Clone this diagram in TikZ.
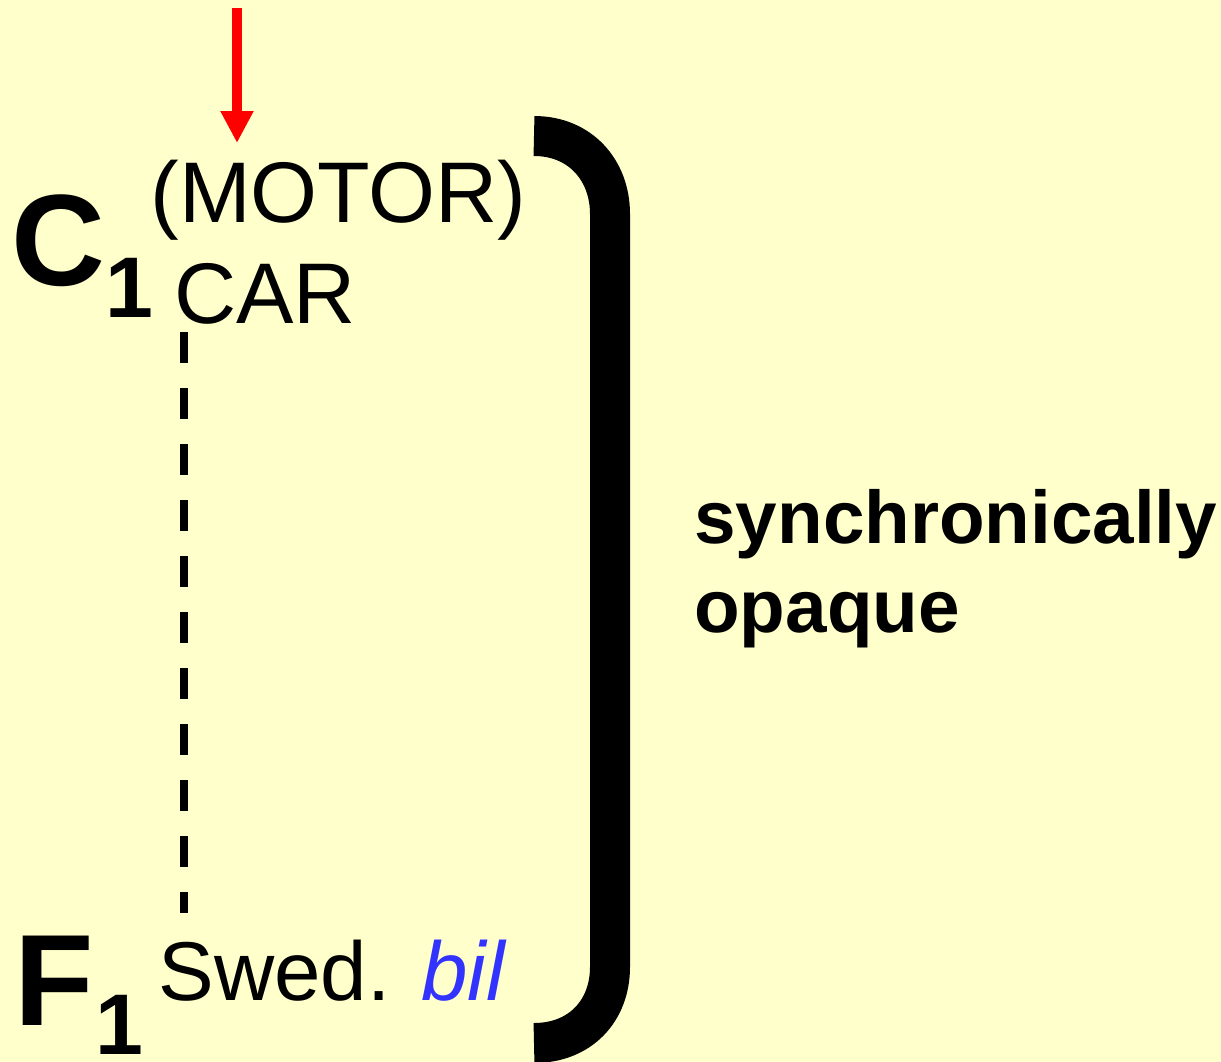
\documentclass[tikz,border=0pt]{standalone}
\usepackage{fontspec}
\setmainfont{Liberation Sans}
\usepackage{tikz}
\usetikzlibrary{arrows.meta, positioning}
\definecolor{figbg}{RGB}{255,255,204}
\definecolor{figblue}{RGB}{51,51,255}
\definecolor{figred}{RGB}{255,0,0}
\tikzstyle{word} = [inner sep=0pt, anchor=base west, font=\fontsize{49}{58}\selectfont]
\tikzstyle{bigsym} = [inner sep=0pt, anchor=base west, font=\fontsize{74}{88}\selectfont\bfseries]
\tikzstyle{subsym} = [inner sep=0pt, anchor=base west, font=\fontsize{49}{58}\selectfont\bfseries]
\tikzstyle{note} = [inner sep=0pt, anchor=base west, font=\fontsize{42.5}{50}\selectfont\bfseries]
\tikzstyle{redarrow} = [-{Triangle[width=6.2mm, length=6.4mm]}, line width=2mm, draw=figred]
\tikzstyle{dashline} = [line width=1.6mm, dash pattern=on 6.2mm off 5mm]
\tikzstyle{brace} = [line width=8mm]

\begin{document}
\begin{tikzpicture}[x=0.02cm, y=-0.02cm]
    \fill[figbg] (0,0) rectangle (1221,1062);
    \useasboundingbox (0,0) rectangle (1221,1062);

    \node (csym)  [bigsym] at (11,285)   {C};
    \node (csub)  [subsym] at (105,317)  {1};
    \node (motor) [word]   at (150,222)  {(MOTOR)};
    \node (car)   [word]   at (174,323)  {CAR};
    \node (fsym)  [bigsym] at (14,1025)  {F};
    \node (fsub)  [subsym] at (95,1054)  {1};
    \node (swed)  [word, font=\fontsize{47.5}{58}\selectfont] at (158,1000) {Swed. {\itshape\color{figblue}bil}};
    \node (synch) [note]   at (694,543)  {synchronically};
    \node (opaq)  [note]   at (694,632)  {opaque};

    \coordinate (arrtop) at (237,8);
    \draw[redarrow] (arrtop) -- ([shift={(87,-79)}]motor.base west);
    \draw[dashline] ([shift={(10,9)}]car.base west) -- ([shift={(26,-87)}]swed.base west);

    \draw[brace] (534,136) .. controls (580,136) and (610,170) .. (610,214)
        -- (610,967) .. controls (610,1011) and (580,1043) .. (534,1043);
\end{tikzpicture}
\end{document}
